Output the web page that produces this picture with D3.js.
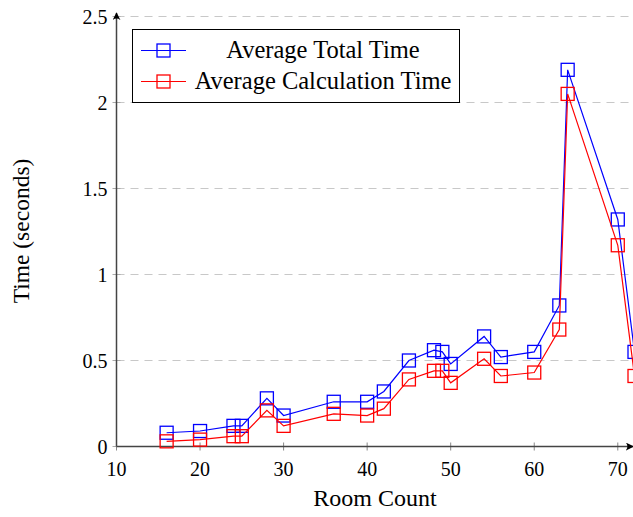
<!DOCTYPE html>
<html>
<head>
<meta charset="utf-8">
<script src="https://cdn.jsdelivr.net/npm/d3@7"></script>
<style>
  body { margin: 0; background: #fff; }
  text { font-family: "Liberation Serif", "Times New Roman", serif; fill: #000; }
</style>
</head>
<body>
<svg id="chart" width="633" height="517"></svg>
<script>
// Room counts and measured times (seconds)
const roomCount = [16, 20, 24, 25, 28, 30, 36, 40, 42, 45, 48, 49, 50, 54, 56, 60, 63, 64, 70, 72];
const totalTime = [0.08, 0.09, 0.12, 0.12, 0.28, 0.18, 0.26, 0.26, 0.32, 0.50, 0.56, 0.55, 0.48, 0.64, 0.52, 0.55, 0.82, 2.19, 1.32, 0.55];
const calcTime  = [0.03, 0.04, 0.06, 0.06, 0.21, 0.12, 0.19, 0.18, 0.22, 0.39, 0.44, 0.44, 0.37, 0.51, 0.41, 0.43, 0.68, 2.05, 1.17, 0.41];
const xTicks = [10, 20, 30, 40, 50, 60, 70];
const yTicks = [0, 0.5, 1, 1.5, 2, 2.5];
const seriesNames = ["Average Total Time", "Average Calculation Time"];
const seriesColors = ["#0000ff", "#ff0000"];

const svg = d3.select("#chart");

// Scales (plot area roughly 117..634 x 16..447)
const x = d3.scaleLinear().domain([10, 72]).range([116.5, 634.5]);
const y = d3.scaleLinear().domain([0, 2.5]).range([446.5, 16.5]);

// Dashed grid lines
svg.append("g")
  .selectAll("line")
  .data(yTicks.filter(d => d > 0))
  .enter().append("line")
  .attr("x1", x(10))
  .attr("x2", 633)
  .attr("y1", d => y(d))
  .attr("y2", d => y(d))
  .attr("stroke", "#c8c8c8")
  .attr("stroke-width", 1.2)
  .attr("stroke-dasharray", "8,6");

// Tick marks (straddle the axis lines)
svg.append("g").selectAll("line")
  .data(xTicks)
  .enter().append("line")
  .attr("x1", d => x(d)).attr("x2", d => x(d))
  .attr("y1", y(0) - 4).attr("y2", y(0) + 4)
  .attr("stroke", "#888").attr("stroke-width", 1);

svg.append("g").selectAll("line")
  .data(yTicks)
  .enter().append("line")
  .attr("x1", x(10) - 4).attr("x2", x(10) + 4)
  .attr("y1", d => y(d)).attr("y2", d => y(d))
  .attr("stroke", "#aaa").attr("stroke-width", 1);

// Tick labels
svg.append("g").selectAll("text")
  .data(xTicks)
  .enter().append("text")
  .attr("x", d => x(d))
  .attr("y", y(0) + 29)
  .attr("text-anchor", "middle")
  .style("font-size", "20px")
  .text(d => d);

svg.append("g").selectAll("text")
  .data(yTicks)
  .enter().append("text")
  .attr("x", x(10) - 9)
  .attr("y", d => y(d) + 7)
  .attr("text-anchor", "end")
  .style("font-size", "20px")
  .text(d => d);

// Axis lines with arrow heads
const defs = svg.append("defs");
defs.append("marker")
  .attr("id", "arrow")
  .attr("viewBox", "0 0 10 10")
  .attr("refX", 9).attr("refY", 5)
  .attr("markerWidth", 8).attr("markerHeight", 8)
  .attr("markerUnits", "userSpaceOnUse")
  .attr("orient", "auto")
  .append("path")
  .attr("d", "M0,0 Q4,5 0,10 L10,5 Z")
  .attr("fill", "#000");

svg.append("line")
  .attr("x1", x(10)).attr("x2", 633)
  .attr("y1", y(0)).attr("y2", y(0))
  .attr("stroke", "#444").attr("stroke-width", 1.5)
  .attr("marker-end", "url(#arrow)");

svg.append("line")
  .attr("x1", x(10)).attr("x2", x(10))
  .attr("y1", y(0)).attr("y2", 13)
  .attr("stroke", "#444").attr("stroke-width", 1.5)
  .attr("marker-end", "url(#arrow)");

// Data series
const series = [totalTime, calcTime];
const clip = defs.append("clipPath").attr("id", "clip")
  .append("rect").attr("x", 0).attr("y", 0).attr("width", 633).attr("height", 517);

const line = d3.line()
  .x((d, i) => x(roomCount[i]))
  .y(d => y(d));

const plot = svg.append("g").attr("clip-path", "url(#clip)");
const mk = 13;

series.forEach((vals, s) => {
  plot.append("path")
    .datum(vals)
    .attr("d", line)
    .attr("fill", "none")
    .attr("stroke", seriesColors[s])
    .attr("stroke-width", 1.2);

  plot.selectAll(".m" + s)
    .data(vals)
    .enter().append("rect")
    .attr("class", "m" + s)
    .attr("x", (d, i) => x(roomCount[i]) - mk / 2)
    .attr("y", d => y(d) - mk / 2)
    .attr("width", mk).attr("height", mk)
    .attr("fill", "none")
    .attr("stroke", seriesColors[s])
    .attr("stroke-width", 1.3);
});

// Legend
const legend = svg.append("g");
legend.append("rect")
  .attr("x", 132.5).attr("y", 29.5)
  .attr("width", 327).attr("height", 73)
  .attr("fill", "#fff")
  .attr("stroke", "#000").attr("stroke-width", 1);

seriesNames.forEach((name, s) => {
  const cy = 50.5 + s * 31;
  legend.append("line")
    .attr("x1", 141).attr("x2", 186)
    .attr("y1", cy).attr("y2", cy)
    .attr("stroke", seriesColors[s]).attr("stroke-width", 1.2);
  legend.append("rect")
    .attr("x", 163.5 - mk / 2).attr("y", cy - mk / 2)
    .attr("width", mk).attr("height", mk)
    .attr("fill", "none")
    .attr("stroke", seriesColors[s]).attr("stroke-width", 1.3);
  legend.append("text")
    .attr("x", 323).attr("y", cy + 7)
    .attr("text-anchor", "middle")
    .style("font-size", "24.5px")
    .text(name);
});

// Axis titles
svg.append("text")
  .attr("x", 375).attr("y", 506)
  .attr("text-anchor", "middle")
  .style("font-size", "24px")
  .text("Room Count");

svg.append("text")
  .attr("transform", "translate(29,231) rotate(-90)")
  .attr("text-anchor", "middle")
  .style("font-size", "23.5px")
  .text("Time (seconds)");
</script>
</body>
</html>
